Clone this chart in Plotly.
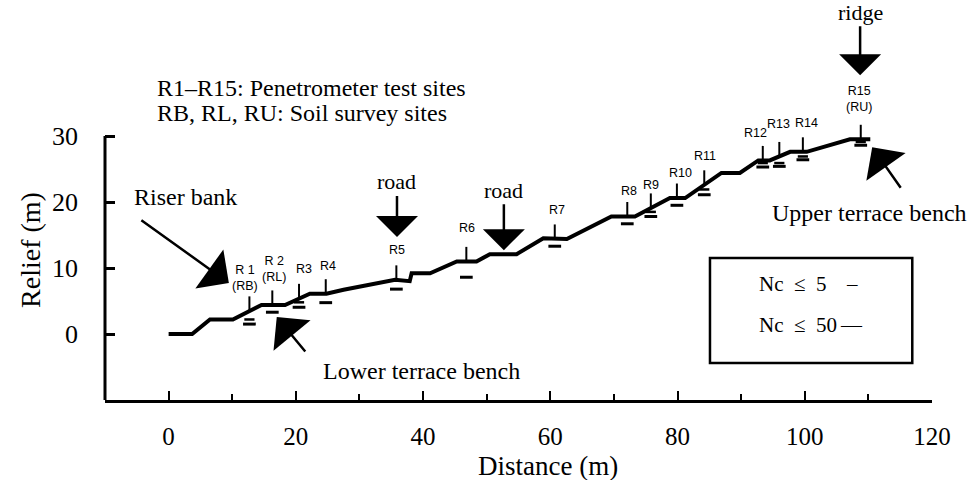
import plotly.graph_objects as go

# ---------------- data ----------------
# terrain profile (distance m, relief m)
profile_x = [0, 3.7, 6.5, 10.1, 14.6, 18.3, 22.2, 24.8, 27.5, 35.6, 37.9, 38.2, 41.1, 45.3, 48.4,
             50.5, 54.7, 58.9, 62.6, 69.6, 73.3, 78.8, 81.2, 86.9, 89.8, 92.7, 94.5, 97.7, 100.3,
             107.1, 110.3]
profile_y = [0, 0, 2.2, 2.2, 4.4, 4.4, 6.1, 6.1, 6.7, 8.2, 8.0, 9.2, 9.2, 11.0, 11.0,
             12.1, 12.1, 14.5, 14.4, 17.8, 17.8, 20.6, 20.6, 24.4, 24.4, 26.3, 26.3, 27.6, 27.6,
             29.5, 29.5]

# test sites
site_names = ["R 1<br>(RB)", "R 2<br>(RL)", "R3", "R4", "R5", "R6", "R7", "R8", "R9", "R10",
              "R11", "R12", "R13", "R14", "R15<br>(RU)"]
site_x = [12.7, 16.3, 20.5, 24.7, 35.8, 46.8, 60.7, 72.1, 75.8, 79.9, 84.2, 93.4, 96.0, 99.7, 108.8]
site_surface = [3.5, 4.4, 5.4, 6.1, 8.2, 11.0, 14.4, 17.8, 19.1, 20.6, 22.6, 26.3, 26.9, 27.6, 29.5]
# depth below surface (m)
depth_nc5 = [1.3, None, 0.6, None, None, None, None, None, 0.6, None, 0.7, 0.4, 1.0, 0.7, 0.4]
depth_nc50 = [2.0, 1.1, 1.35, 1.35, 1.4, 2.4, 1.1, 1.1, 1.3, 1.1, 1.5, 1.0, 1.5, 1.2, 0.9]

x_ticks = [0, 20, 40, 60, 80, 100, 120]
y_ticks = [0, 10, 20, 30]

# ---------------- layout constants ----------------
SERIF = "Liberation Serif, Times New Roman, serif"
SANS = "Liberation Sans, Arial, sans-serif"
TICK_H = 2.2      # site tick height (m)
HALF5 = 0.8       # half width of Nc<=5 dash
HALF50 = 1.0      # half width of Nc<=50 dash
label_pos = [(12.0, 8.5), (16.6, 9.8), (21.3, 9.85), (25.1, 10.3), (35.9, 12.7), (46.9, 16.1),
             (61.0, 18.8), (72.3, 21.6), (75.8, 22.6), (80.4, 24.4), (84.3, 27.0), (92.2, 30.4),
             (95.9, 31.75), (100.3, 32.0), (108.5, 35.6)]

fig = go.Figure()

# profile
fig.add_trace(go.Scatter(x=profile_x, y=profile_y, mode="lines",
                         line=dict(color="black", width=4), hoverinfo="skip", showlegend=False))

# site ticks
tx, ty = [], []
for x, s in zip(site_x, site_surface):
    tx += [x, x, None]
    ty += [s, s + TICK_H, None]
fig.add_trace(go.Scatter(x=tx, y=ty, mode="lines", line=dict(color="black", width=2),
                         hoverinfo="skip", showlegend=False))

# dashes
d5x, d5y, d50x, d50y = [], [], [], []
for x, s, a, b in zip(site_x, site_surface, depth_nc5, depth_nc50):
    if a is not None:
        d5x += [x - HALF5, x + HALF5, None]
        d5y += [s - a, s - a, None]
    if b is not None:
        d50x += [x - HALF50, x + HALF50, None]
        d50y += [s - b, s - b, None]
fig.add_trace(go.Scatter(x=d5x, y=d5y, mode="lines", line=dict(color="black", width=2.5),
                         hoverinfo="skip", showlegend=False))
fig.add_trace(go.Scatter(x=d50x, y=d50y, mode="lines", line=dict(color="black", width=3),
                         hoverinfo="skip", showlegend=False))

ann = []
for name, (lx, ly) in zip(site_names, label_pos):
    ann.append(dict(x=lx, y=ly, text=name, showarrow=False,
                    font=dict(family=SANS, size=12.5, color="black"),
                    xanchor="center", yanchor="middle"))

def arrow(x, y, ax, ay, text=" ", size=2.8):
    return dict(x=x, y=y, ax=ax, ay=ay, axref="pixel", ayref="pixel", text=text, showarrow=True,
                arrowhead=1, arrowsize=size, arrowwidth=2.5, arrowcolor="black",
                font=dict(family=SERIF, size=22, color="black"))

ann.append(arrow(9.47, 7.73, -92, -66, size=3.2))
ann.append(arrow(17.0, 2.58, 33, 40, size=3.2))
ann.append(arrow(110.6, 28.3, 33, 47, size=3.2))
ann.append(arrow(35.9, 14.7, 0, -55, "road"))
ann.append(arrow(52.7, 12.7, 0, -60, "road"))
ann.append(arrow(108.7, 39.2, 0, -63, "ridge"))

def txt(x, y, t, xanchor="center", size=24):
    return dict(x=x, y=y, text=t, showarrow=False, xanchor=xanchor, yanchor="middle",
                font=dict(family=SERIF, size=size, color="black"))

ann.append(txt(2.6, 20.8, "Riser bank"))
ann.append(txt(39.7, -5.6, "Lower terrace bench"))
ann.append(txt(110.1, 18.3, "Upper terrace bench"))
ann.append(txt(-2.1, 37.3, "R1–R15: Penetrometer test sites", "left"))
ann.append(txt(-2.1, 33.5, "RB, RL, RU: Soil survey sites", "left"))
ann.append(txt(92.5, 7.6, "Nc  ≤  5", "left", 21))
ann.append(txt(92.5, 1.4, "Nc  ≤  50", "left", 21))
ann.append(txt(107.4, 7.6, "–", size=21))
ann.append(txt(107.3, 1.4, "—", size=21))
# axis titles
ann.append(dict(xref="paper", yref="y", x=-0.091, y=12.7, text="Relief (m)", textangle=-90,
                showarrow=False, xanchor="center", yanchor="middle",
                font=dict(family=SERIF, size=28, color="black")))
ann.append(dict(xref="x", yref="paper", x=59.6, y=-0.166, text="Distance (m)",
                showarrow=False, xanchor="center", yanchor="middle",
                font=dict(family=SERIF, size=27, color="black")))

shapes = [
    dict(type="line", xref="paper", yref="y", x0=0, x1=0, y0=-10, y1=30,
         line=dict(color="black", width=3)),
    dict(type="rect", xref="x", yref="y", x0=85.1, x1=116.9, y0=-4.4, y1=11.5,
         line=dict(color="black", width=2.5), fillcolor="rgba(0,0,0,0)"),
]

fig.update_layout(
    width=970, height=480,
    margin=dict(l=105, r=38, t=4, b=80, autoexpand=False),
    paper_bgcolor="white", plot_bgcolor="white",
    annotations=ann, shapes=shapes, showlegend=False,
    xaxis=dict(range=[-10, 120], tickvals=x_ticks, ticks="inside", ticklen=9, tickwidth=2,
               tickcolor="black", showline=True, linewidth=3, linecolor="black", showgrid=False,
               zeroline=False, tickfont=dict(family=SERIF, size=25, color="black"),
               ticklabelstandoff=12, automargin=False,
               minor=dict(tickvals=[10, 30, 50, 70, 90, 110], ticks="inside", ticklen=6,
                          tickwidth=1.5, tickcolor="black")),
    yaxis=dict(range=[-10, 50], tickvals=y_ticks, ticks="inside", ticklen=10, tickwidth=3,
               tickcolor="black", showline=False, showgrid=False, zeroline=False,
               tickfont=dict(family=SERIF, size=26, color="black"), ticklabelstandoff=26,
               automargin=False),
)

fig.write_html("out.html")
